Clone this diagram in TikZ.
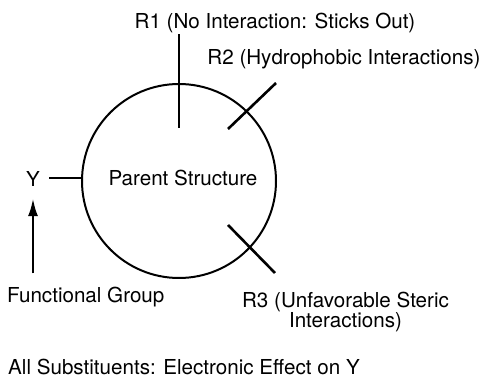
\documentclass[tikz,border=0pt]{standalone}
\usepackage{fontspec}
\setmainfont{TeX Gyre Heros}
\usetikzlibrary{arrows.meta}

\begin{document}
\begin{tikzpicture}[x=1pt, y=-1pt, every node/.style={font=\fontsize{20.6}{20}\selectfont, inner sep=0pt}, >={Latex[length=18pt,width=10pt]}, bond/.style={line width=2.6pt}]
	\useasboundingbox (0,0) rectangle (483,379);
	\node[circle, draw, line width=2pt, minimum size=194pt] (ring) at (179,181) {};
	\node[anchor=base] (parent) at (183,186) {Parent Structure};
	\node[anchor=base] (r1) at (275,29) {R1 (No Interaction: Sticks Out)};
	\node[anchor=base] (r2) at (344,65) {R2 (Hydrophobic Interactions)};
	\node[anchor=north, align=center] (r3) at (345.5,292) {R3 (Unfavorable Steric\\Interactions)};
	\node[anchor=base] (y) at (33,187) {Y};
	\node[anchor=base west] (fg) at (7,303) {Functional Group};
	\node[anchor=base west] (all) at (8,375) {All Substituents: Electronic Effect on Y};
	% substituent bonds
	\coordinate (r1in) at (179,128);
	\coordinate (r2in) at (228,129);
	\coordinate (r2out) at (276,83);
	\coordinate (r3in) at (228,225);
	\coordinate (r3out) at (275,273);
	\coordinate (ybond) at (49,178);
	\draw[bond] (r1in) -- (r1in |- r1.south);
	\draw[bond] (r2in) -- (r2out);
	\draw[bond] (r3in) -- (r3out);
	\draw[bond] (ybond) -- (ybond -| ring.west);
	\draw[bond, ->, shorten <=14pt, shorten >=11pt] (fg.north -| y.south) -- (y.south);
\end{tikzpicture}
\end{document}
